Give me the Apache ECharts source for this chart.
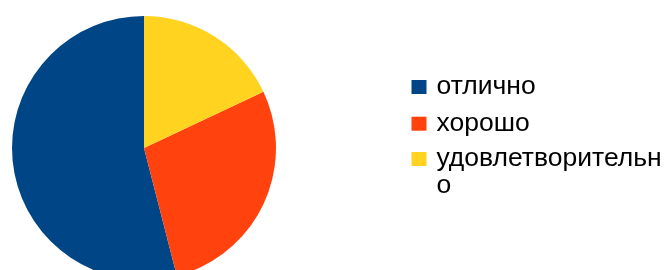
<!DOCTYPE html>
<html>
<head>
<meta charset="utf-8">
<script src="https://cdn.jsdelivr.net/npm/echarts@6/dist/echarts.min.js"></script>
<style>
html,body{margin:0;padding:0;background:#fff;}
#c{width:665px;height:270px;}
</style>
</head>
<body>
<div id="c"></div>
<script>
var categories = ['отлично', 'хорошо', 'удовлетворительно'];
var values = [54, 28, 18];
var colors = ['#004586', '#ff420e', '#ffd320'];
var legendLabels = ['отлично', 'хорошо', '\nудовлетворительн\nо'];

var chart = echarts.init(document.getElementById('c'), null, {renderer: 'canvas'});
var legendTops = [73.5, 110.2, 118.5];
var legends = categories.map(function (name, i) {
  return {
    data: [{name: name, icon: 'rect'}],
    orient: 'vertical',
    left: 411.5,
    top: legendTops[i],
    padding: 0,
    itemWidth: 15,
    itemHeight: 14,
    selectedMode: false,
    formatter: function () { return legendLabels[i]; },
    textStyle: {
      fontFamily: 'Liberation Sans',
      fontSize: 26.5,
      color: '#000',
      lineHeight: 27,
      padding: [0, 0, 0, 5]
    }
  };
});
chart.setOption({
  animation: false,
  legend: legends,
  series: [{
    type: 'pie',
    center: [144, 148],
    radius: 132,
    startAngle: 90,
    clockwise: false,
    label: {show: false},
    labelLine: {show: false},
    emphasis: {disabled: true},
    itemStyle: {borderWidth: 0},
    data: categories.map(function (n, i) {
      return {name: n, value: values[i], itemStyle: {color: colors[i]}};
    })
  }]
});
</script>
</body>
</html>
